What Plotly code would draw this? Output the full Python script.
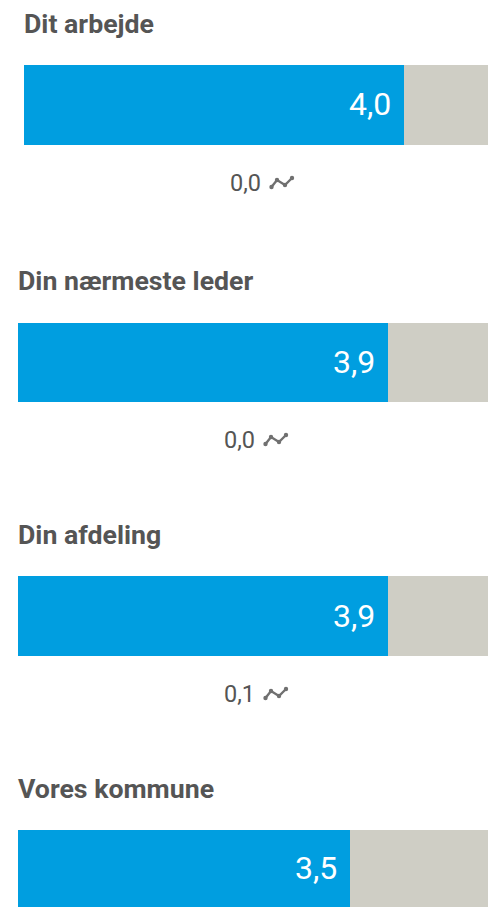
import plotly.graph_objects as go

categories = ["Dit arbejde", "Din nærmeste leder", "Din afdeling", "Vores kommune"]
scores = [4.0, 3.9, 3.9, 3.5]
score_labels = ["4,0", "3,9", "3,9", "3,5"]
changes = ["0,0", "0,0", "0,1", None]
scale_max = [5, 5, 5, 5]

W, H = 488, 907
PX_PER_UNIT = [95, 94.9, 94.9, 94.9]
BLUE, GREY, TXT = "#009EE0", "#CFCEC5", "#555555"
left = [24, 18, 18, 18]
bar_top = [65, 323, 576, 830]
bar_bot = [145, 402, 656, 907]
title_x = [22, 16, 16, 16]
title_y = [24.5, 281, 535, 789]
change_x = [245.5, 239.5, 239.5, None]
change_y = [182.5, 439.5, 693.5, None]
ICON = "#707070"


def px(x):
    return x / W


def py(y):
    return 1 - y / H


fig = go.Figure()
shapes, annotations = [], []
for i, cat in enumerate(categories):
    n = "" if i == 0 else str(i + 1)
    fig.add_trace(go.Bar(
        x=[scores[i]], y=[cat], orientation="h", marker=dict(color=BLUE, line_width=0),
        hoverinfo="skip", showlegend=False, xaxis="x" + n, yaxis="y" + n,
    ))
    fig.add_trace(go.Bar(
        x=[scale_max[i] - scores[i]], y=[cat], orientation="h", marker=dict(color=GREY, line_width=0),
        hoverinfo="skip", showlegend=False, xaxis="x" + n, yaxis="y" + n,
    ))
    fig.update_layout({
        "xaxis" + n: dict(domain=[left[i] / W, 1], range=[0, (W - left[i]) / PX_PER_UNIT[i]], visible=False, fixedrange=True),
        "yaxis" + n: dict(domain=[1 - bar_bot[i] / H, 1 - bar_top[i] / H], visible=False, fixedrange=True, anchor="x" + n),
    })
    annotations.append(dict(
        text=score_labels[i], x=scores[i], y=cat, xref="x" + n, yref="y" + n,
        xanchor="right", yanchor="middle", showarrow=False, xshift=-11.5, yshift=0.5,
        font=dict(family="Roboto", size=32, color="white"),
    ))
    annotations.append(dict(
        text="<b>%s</b>" % cat, x=px(title_x[i]), y=py(title_y[i]), xref="paper", yref="paper",
        xanchor="left", yanchor="middle", showarrow=False,
        font=dict(family="Roboto", size=26.7, color=TXT),
    ))
    if changes[i] is not None:
        cx, cy = change_x[i], change_y[i]
        annotations.append(dict(
            text=changes[i], x=px(cx), y=py(cy), xref="paper", yref="paper",
            xanchor="center", yanchor="middle", showarrow=False,
            font=dict(family="Roboto", size=23.5, color=TXT),
        ))
        # trend icon beside the change figure
        pts = [(cx + 26, cy + 4.5), (cx + 31.5, cy - 2.5), (cx + 39.5, cy + 2.5), (cx + 46.5, cy - 4.5)]
        shapes.append(dict(
            type="path", xref="paper", yref="paper",
            path="M " + " L ".join("%.5f,%.5f" % (px(x), py(y)) for x, y in pts),
            line=dict(color=ICON, width=2.4),
        ))
        for x, y in pts:
            shapes.append(dict(
                type="circle", xref="paper", yref="paper",
                x0=px(x - 2.2), x1=px(x + 2.2), y0=py(y + 2.2), y1=py(y - 2.2),
                fillcolor=ICON, line_width=0,
            ))

fig.update_layout(
    width=W, height=H, margin=dict(l=0, r=0, t=0, b=0), barmode="stack", bargap=0,
    paper_bgcolor="white", plot_bgcolor="white", shapes=shapes, annotations=annotations,
)
fig.write_html("out.html", config={"displayModeBar": False},
               post_script="document.body.style.margin='0';document.body.style.overflow='hidden';")
